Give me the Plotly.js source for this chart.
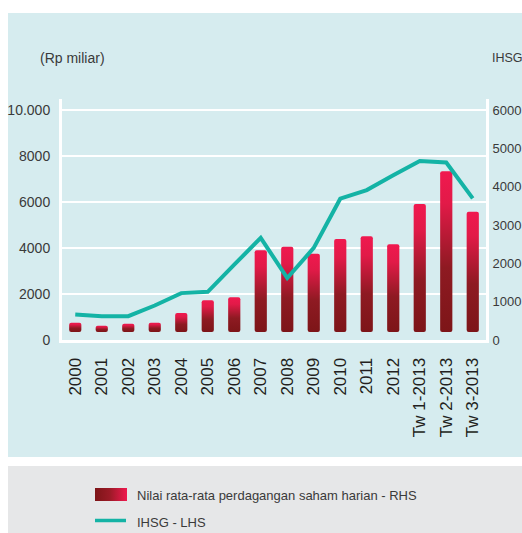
<!DOCTYPE html>
<html>
<head>
<meta charset="utf-8">
<script src="https://cdn.plot.ly/plotly-3.0.1.min.js"></script>
<style>
html,body{margin:0;padding:0;background:#fff;}
#chart{width:522px;height:533px;}
</style>
</head>
<body>
<div id="chart"></div>
<script>
// ---- data ----
var categories = ["2000","2001","2002","2003","2004","2005","2006","2007","2008","2009","2010","2011","2012","Tw 1-2013","Tw 2-2013","Tw 3-2013"];
var tradingValue = [752, 622, 709, 752, 1174, 1725, 1855, 3899, 4058, 3754, 4391, 4507, 4159, 5913, 7333, 5580];
var ihsg = [663, 621, 621, 899, 1223, 1258, 1965, 2664, 1616, 2402, 3686, 3912, 4297, 4672, 4629, 3694];
var leftTickVals = [0, 2000, 4000, 6000, 8000, 10000];
var leftTickText = ["0", "2000", "4000", "6000", "8000", "10.000"];
var rightTickVals = [0, 1000, 2000, 3000, 4000, 5000, 6000];
var rightTickText = ["0", "1000", "2000", "3000", "4000", "5000", "6000"];
var barBase = 350;
var barName = "Nilai rata-rata perdagangan saham harian - RHS";
var lineName = "IHSG - LHS";
var leftTitle = "(Rp miliar)";
var rightTitle = "IHSG";

var FONT = "'Liberation Sans', Arial, sans-serif";
var TXT = "#3a3a3a";

var barTrace = {
  type: "bar",
  name: barName,
  x: categories,
  y: tradingValue.map(function(v){ return v - barBase; }),
  base: barBase,
  yaxis: "y",
  marker: {color: "#c41b3c", cornerradius: 2},
  hoverinfo: "skip"
};
var lineTrace = {
  type: "scatter",
  mode: "lines",
  name: lineName,
  x: categories,
  y: ihsg,
  yaxis: "y2",
  line: {color: "#14b3a5", width: 4},
  hoverinfo: "skip"
};

var L = 62, R = 36, T = 99, B = 193;
var W = 522 - L - R, H = 533 - T - B;
function px2x(p){ return (p - L) / W; }
function py2y(p){ return (533 - B - p) / H; }

var layout = {
  width: 522, height: 533,
  margin: {l: L, r: R, t: T, b: B, pad: 0},
  paper_bgcolor: "#ffffff",
  plot_bgcolor: "rgba(0,0,0,0)",
  showlegend: false,
  bargap: 0.54,
  xaxis: {
    type: "category",
    tickangle: -90,
    tickfont: {family: FONT, size: 17, color: "#231f20"},
    showgrid: false, zeroline: false,
    showline: true, linecolor: "#ffffff", linewidth: 3,
    ticks: "", ticklabelstandoff: 8,
    automargin: false,
    fixedrange: true
  },
  yaxis: {
    range: [0, 10480],
    tickvals: leftTickVals, ticktext: leftTickText,
    tickfont: {family: FONT, size: 14, color: TXT},
    showgrid: true, gridcolor: "#ffffff", gridwidth: 2,
    zeroline: false,
    showline: true, linecolor: "#ffffff", linewidth: 3,
    ticks: "", ticklabelstandoff: 6,
    automargin: false,
    fixedrange: true
  },
  yaxis2: {
    overlaying: "y", side: "right",
    range: [0, 6287],
    tickvals: rightTickVals, ticktext: rightTickText,
    tickfont: {family: FONT, size: 13, color: TXT},
    showgrid: false, zeroline: false,
    showline: true, linecolor: "#ffffff", linewidth: 3,
    ticks: "", ticklabelstandoff: 1,
    automargin: false,
    fixedrange: true
  },
  shapes: [
    {type: "rect", xref: "paper", yref: "paper", layer: "below",
     x0: px2x(8), x1: px2x(530), y0: py2y(457), y1: py2y(13),
     fillcolor: "#d6ecef", line: {width: 0}},
    {type: "rect", xref: "paper", yref: "paper", layer: "below",
     x0: px2x(8), x1: px2x(530), y0: py2y(540), y1: py2y(466),
     fillcolor: "#e6e7e8", line: {width: 0}},
    // legend swatches
    {type: "rect", xref: "paper", yref: "paper", layer: "above",
     x0: px2x(95), x1: px2x(127), y0: py2y(501), y1: py2y(488),
     fillcolor: "#a11b2b", line: {width: 0}},
    {type: "line", xref: "paper", yref: "paper", layer: "above",
     x0: px2x(95), x1: px2x(126), y0: py2y(520.5), y1: py2y(520.5),
     line: {color: "#14b3a5", width: 3.5}}
  ],
  annotations: [
    {text: leftTitle, xref: "paper", yref: "paper", x: px2x(38), y: py2y(58),
     xanchor: "left", yanchor: "middle", showarrow: false,
     font: {family: FONT, size: 14, color: TXT}},
    {text: rightTitle, xref: "paper", yref: "paper", x: px2x(490), y: py2y(58),
     xanchor: "left", yanchor: "middle", showarrow: false,
     font: {family: FONT, size: 12.5, color: TXT}},
    {text: barName, xref: "paper", yref: "paper", x: px2x(135), y: py2y(495),
     xanchor: "left", yanchor: "middle", showarrow: false,
     font: {family: FONT, size: 13, color: TXT}},
    {text: lineName, xref: "paper", yref: "paper", x: px2x(135), y: py2y(522),
     xanchor: "left", yanchor: "middle", showarrow: false,
     font: {family: FONT, size: 13, color: TXT}}
  ]
};

Plotly.newPlot("chart", [barTrace, lineTrace], layout, {displayModeBar: false, staticPlot: true}).then(function(gd){
  var ns = "http://www.w3.org/2000/svg";
  var svg = gd.querySelector("svg.main-svg");
  var defs = svg.querySelector("defs");
  if (!defs) { defs = document.createElementNS(ns, "defs"); svg.insertBefore(defs, svg.firstChild); }
  function grad(id, x2, y2, stops){
    var g = document.createElementNS(ns, "linearGradient");
    g.setAttribute("id", id);
    g.setAttribute("x1", "0"); g.setAttribute("y1", "0");
    g.setAttribute("x2", x2); g.setAttribute("y2", y2);
    stops.forEach(function(s){
      var st = document.createElementNS(ns, "stop");
      st.setAttribute("offset", s[0]);
      st.setAttribute("stop-color", s[1]);
      g.appendChild(st);
    });
    defs.appendChild(g);
  }
  grad("barGradV", "0", "1", [["0", "#f0194f"], ["0.2", "#e21a48"], ["0.6", "#8e1a22"], ["1", "#7d1518"]]);
  grad("barGradH", "1", "0", [["0", "#7d1518"], ["0.45", "#9a1a26"], ["1", "#f0194f"]]);
  gd.querySelectorAll(".barlayer .point path").forEach(function(p){
    p.style.fill = "url(#barGradV)";
  });
  gd.querySelectorAll(".shapelayer path").forEach(function(p){
    var f = (p.style.fill || "").replace(/\s/g, "");
    if (f === "rgb(161,27,43)") { p.style.fill = "url(#barGradH)"; p.style.fillOpacity = 1; }
  });
});
</script>
</body>
</html>
